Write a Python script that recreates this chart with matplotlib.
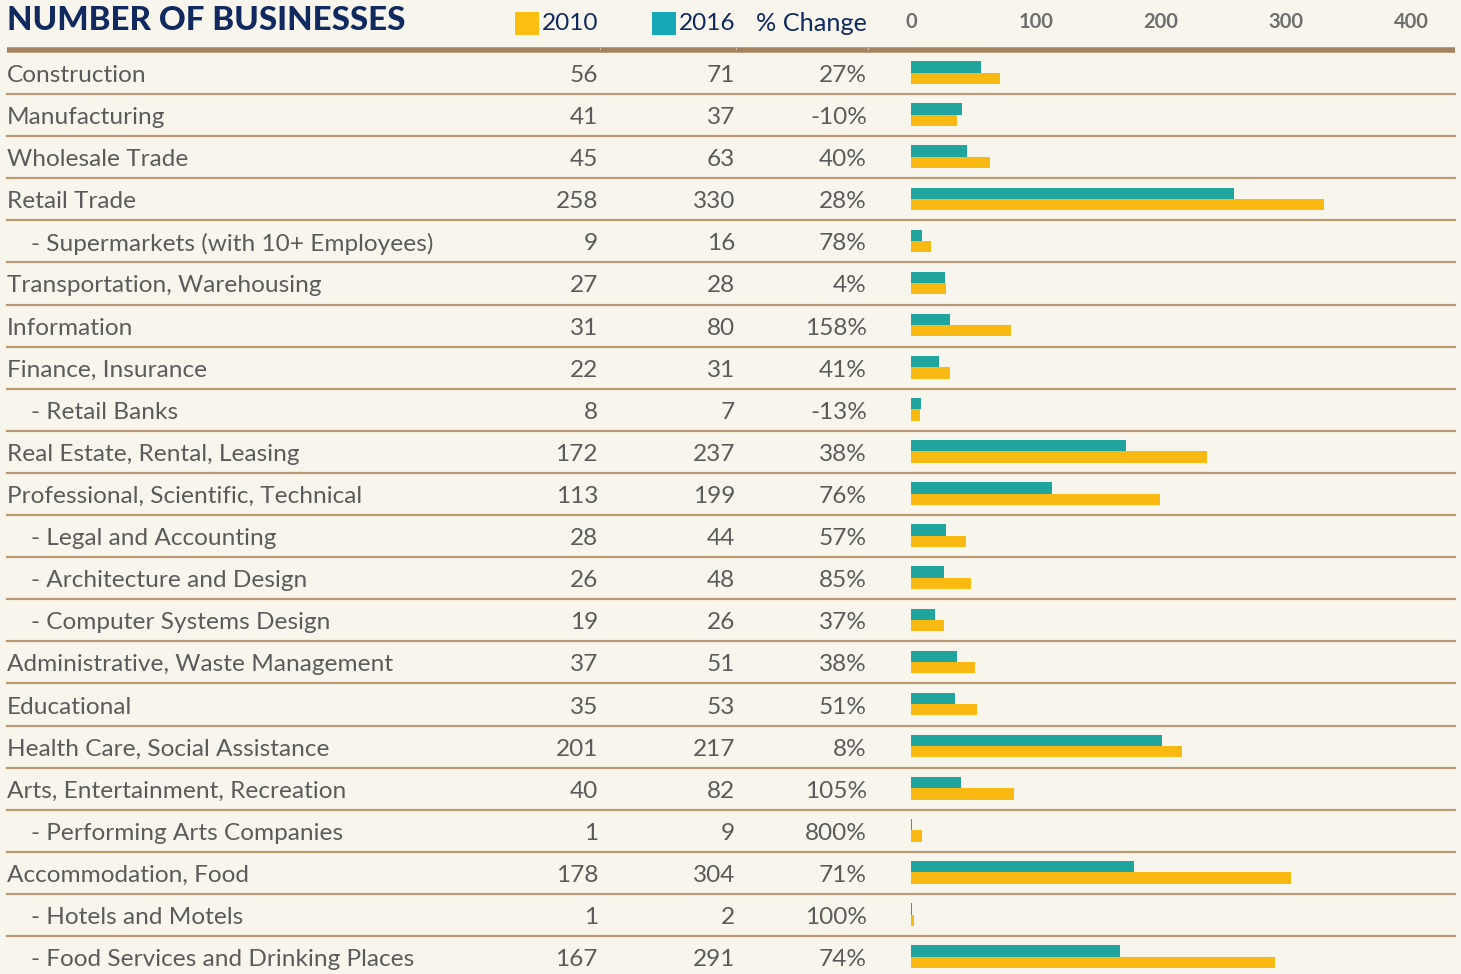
import matplotlib
matplotlib.use("Agg")
import matplotlib.pyplot as plt
from matplotlib.patches import Rectangle

plt.rcParams['font.family'] = ['Lato', 'DejaVu Sans']

# ---------------- data ----------------
labels = [
    "Construction", "Manufacturing", "Wholesale Trade", "Retail Trade",
    "- Supermarkets (with 10+ Employees)", "Transportation, Warehousing",
    "Information", "Finance, Insurance", "- Retail Banks",
    "Real Estate, Rental, Leasing", "Professional, Scientific, Technical",
    "- Legal and Accounting", "- Architecture and Design",
    "- Computer Systems Design", "Administrative, Waste Management",
    "Educational", "Health Care, Social Assistance",
    "Arts, Entertainment, Recreation", "- Performing Arts Companies",
    "Accommodation, Food", "- Hotels and Motels",
    "- Food Services and Drinking Places",
]
values_2010 = [56, 41, 45, 258, 9, 27, 31, 22, 8, 172, 113, 28, 26, 19, 37, 35, 201, 40, 1, 178, 1, 167]
values_2016 = [71, 37, 63, 330, 16, 28, 80, 31, 7, 237, 199, 44, 48, 26, 51, 53, 217, 82, 9, 304, 2, 291]
pct_change = ["27%", "-10%", "40%", "28%", "78%", "4%", "158%", "41%", "-13%",
              "38%", "76%", "57%", "85%", "37%", "38%", "51%", "8%", "105%",
              "800%", "71%", "100%", "74%"]
axis_ticks = [0, 100, 200, 300, 400]
title = "NUMBER OF BUSINESSES"

# ---------------- style ----------------
W, H = 1461, 974
BG = "#F8F6EC"
NAVY = "#10295F"
GRAY = "#5B5B5B"
TICKGRAY = "#6E6E6E"
LINE = "#B99A74"
THICK = "#A5835F"
TEAL_BAR = "#1FA59E"
YEL_BAR = "#F7B912"
TEAL_LEG = "#17A8B8"
YEL_LEG = "#FBBF12"

ROW0 = 73.0      # pixel y of first row center
ROWH = 42.1      # row pitch in pixels
FS = 17.6

fig = plt.figure(figsize=(W / 100, H / 100), dpi=100, facecolor=BG)

# pixel-space canvas for the table text and rules
tax = fig.add_axes([0, 0, 1, 1])
tax.set_xlim(0, W)
tax.set_ylim(H, 0)
tax.axis("off")
tax.set_facecolor(BG)

def ry(i):
    return ROW0 + ROWH * i

# title and header
tax.text(7, 21, title, fontsize=23.8, fontweight="black", color=NAVY,
         ha="left", va="center")
tax.add_patch(Rectangle((515, 12), 24, 23, color=YEL_LEG, lw=0))
tax.text(598, 23.5, "2010", fontsize=FS, color=NAVY, ha="right", va="center")
tax.add_patch(Rectangle((652, 12), 24, 23, color=TEAL_LEG, lw=0))
tax.text(735, 23.5, "2016", fontsize=FS, color=NAVY, ha="right", va="center")
tax.text(867, 23.5, "% Change", fontsize=FS + 0.6, color=NAVY, ha="right", va="center")

# thick header rule with small gaps
tax.plot([7, 1455], [50, 50], color=THICK, lw=4, solid_capstyle="butt")
for gx in (600, 736, 868):
    tax.plot([gx, gx], [47.5, 48.8], color="#D9C4AA", lw=0.8)

# rows
for i, lab in enumerate(labels):
    y = ry(i) + 2.5
    sub = lab.startswith("-")
    tax.text(31 if sub else 7, y, lab, fontsize=FS, color=GRAY,
             ha="left", va="center")
    tax.text(598, y, str(values_2010[i]), fontsize=FS, color=GRAY,
             ha="right", va="center")
    tax.text(735, y, str(values_2016[i]), fontsize=FS, color=GRAY,
             ha="right", va="center")
    tax.text(867, y, pct_change[i], fontsize=FS, color=GRAY,
             ha="right", va="center")
    if i < len(labels) - 1:
        ly = ry(i) + ROWH / 2
        tax.plot([7, 1455], [ly, ly], color=LINE, lw=1.6)

# bar axes: data x scale, row-index y scale
x0_px, x1_px = 911, 1455
px_per_unit = 1.25
bax = fig.add_axes([x0_px / W, 0, (x1_px - x0_px) / W, 1])
bax.set_xlim(0, (x1_px - x0_px) / px_per_unit)
bax.set_ylim((H - ROW0) / ROWH, -ROW0 / ROWH)
bax.axis("off")
bax.patch.set_alpha(0)

n = len(labels)
rows = list(range(n))
bh = 11.3 / ROWH
bax.barh([r - bh / 2 - 0.01 for r in rows], values_2010, height=bh,
         color=TEAL_BAR, lw=0)
bax.barh([r + bh / 2 - 0.01 for r in rows], values_2016, height=bh,
         color=YEL_BAR, lw=0)

for t in axis_ticks:
    bax.text(t, (22 - ROW0) / ROWH, str(t), fontsize=14.5, color=TICKGRAY,
             ha="center", va="center", fontweight="bold")

fig.savefig("out.png", dpi=100, facecolor=BG)
